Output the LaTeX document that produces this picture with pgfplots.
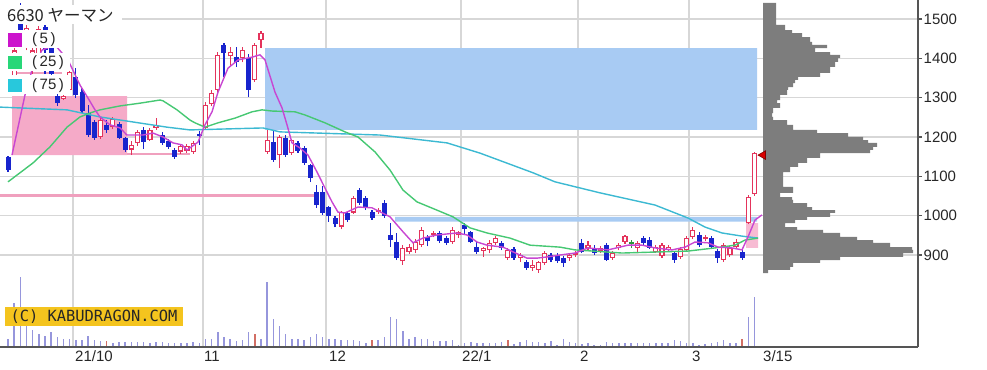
\documentclass[border=0pt]{standalone}
\usepackage{pgfplots}
\pgfplotsset{compat=1.18}
\usepackage{pgfplotstable}
\usepackage{fontspec}
\setmainfont{Liberation Sans}
\newfontfamily\jp{Noto Sans CJK JP}
\newfontfamily\wm{DejaVu Sans Mono}

\definecolor{candred}{RGB}{228,52,92}
\definecolor{candblue}{RGB}{24,36,205}
\definecolor{candgreen}{RGB}{40,150,60}
\definecolor{mafive}{RGB}{200,70,210}
\definecolor{matwfive}{RGB}{70,200,115}
\definecolor{masevfive}{RGB}{60,185,210}
\definecolor{sqfive}{RGB}{204,20,204}
\definecolor{sqtwfive}{RGB}{40,215,120}
\definecolor{sqsevfive}{RGB}{40,200,220}
\definecolor{pinkfill}{RGB}{245,170,200}
\definecolor{pinkline}{RGB}{240,160,190}
\definecolor{lightblue}{RGB}{168,203,243}
\definecolor{profgray}{RGB}{125,125,125}
\definecolor{volblue}{RGB}{150,150,220}
\definecolor{volred}{RGB}{210,110,100}
\definecolor{wmyellow}{RGB}{244,196,30}
\definecolor{axisgray}{RGB}{85,85,85}
\definecolor{gridgray}{RGB}{215,215,215}

% candles: i = trading-day index, o h l c
\pgfplotstableread{
i o h l c
1 1330 1440 1320 1420
3 1440 1485 1420 1478
4 1370 1425 1360 1420
5 1400 1482 1395 1475
9 1297 1306 1294 1304
10 1320 1372 1315 1365
15 1200 1251 1195 1243
17 1226 1251 1220 1246
20 1168 1190 1154 1180
21 1185 1218 1178 1213
23 1193 1222 1190 1218
24 1223 1248 1218 1230
28 1163 1182 1158 1177
29 1165 1182 1160 1178
30 1162 1190 1158 1186
32 1223 1288 1218 1281
33 1283 1320 1278 1312
34 1320 1415 1315 1408
36 1405 1428 1378 1416
38 1400 1430 1390 1421
40 1345 1440 1340 1434
41 1447 1470 1427 1464
42 1162 1218 1158 1192
44 1154 1205 1121 1200
46 1160 1196 1155 1192
54 972 1012 965 1009
56 1008 1050 1005 1045
60 1010 1020 1005 1015
64 884 925 875 918
65 908 928 902 920
66 913 940 905 933
67 925 970 920 963
69 952 960 945 957
72 933 970 928 963
73 950 962 943 958
77 910 921 895 917
78 913 938 904 930
79 930 948 925 943
81 893 918 888 913
83 892 905 882 900
85 868 888 860 875
86 862 886 855 882
87 880 910 875 905
91 893 905 885 900
92 900 910 895 905
94 918 935 912 925
96 910 922 905 918
98 893 910 888 905
99 918 930 912 925
100 933 952 928 948
102 918 935 905 930
105 908 925 905 920
106 897 930 892 925
107 913 925 910 920
109 895 920 890 915
110 913 948 910 943
111 946 970 940 963
113 940 952 935 946
116 888 930 882 925
117 900 922 895 918
118 920 940 915 933
120 982 1052 978 1047
121 1055 1162 1050 1160
}\upT

\pgfplotstableread{
i o h l c
0 1149 1152 1111 1116
2 1500 1540 1460 1470
6 1480 1485 1360 1420
7 1430 1440 1350 1360
8 1305 1320 1280 1287
11 1353 1376 1300 1307
12 1315 1324 1262 1265
13 1262 1282 1200 1206
14 1238 1243 1193 1198
16 1230 1243 1210 1218
18 1233 1238 1195 1198
19 1198 1200 1162 1167
22 1218 1225 1170 1187
25 1205 1212 1180 1185
26 1190 1195 1170 1175
27 1167 1172 1145 1150
31 1208 1215 1180 1203
35 1434 1438 1352 1413
37 1403 1428 1378 1390
39 1402 1410 1302 1320
43 1188 1218 1137 1142
45 1197 1205 1150 1155
47 1185 1190 1160 1165
48 1172 1178 1130 1135
49 1128 1132 1085 1097
50 1060 1078 1020 1027
51 1060 1075 1002 1008
52 1022 1025 985 998
53 995 1000 970 978
55 1006 1012 985 990
57 1065 1070 1028 1033
58 1045 1050 1015 1022
59 1010 1015 990 995
61 1032 1040 995 1000
62 950 982 920 938
63 933 956 887 893
68 946 950 922 935
70 956 960 930 935
71 943 948 926 930
74 975 982 950 965
75 958 962 930 932
76 920 935 903 908
80 930 935 912 918
82 915 920 888 893
84 882 888 862 867
88 900 905 882 888
89 900 905 880 884
90 892 897 870 880
93 930 940 905 908
95 918 925 900 905
97 925 930 885 888
103 943 948 925 930
104 938 945 915 918
108 905 910 880 888
112 951 958 920 925
114 943 948 915 920
115 910 915 880 892
119 908 912 888 892
}\downT

\pgfplotstableread{
i o h l c
101 928 938 918 932
}\dojiT

% volume (relative bar heights)
\pgfplotstableread{
i v
0 8
1 44
2 70
3 22
4 17
5 13
6 11
7 15
8 10
9 8
10 8
11 7
12 7
13 11
14 7
15 6
17 4
18 5
19 5
20 5
21 5
22 5
23 4
24 5
25 5
26 4
27 4
28 4
29 4
30 5
31 4
32 8
33 8
34 15
35 10
36 8
37 6
38 7
39 15
41 8
42 65
43 28
44 21
45 13
46 8
47 8
48 7
49 10
50 13
51 10
52 8
53 8
54 7
55 7
56 7
57 6
58 4
60 7
61 10
62 30
63 28
64 16
65 8
66 10
67 8
68 8
69 6
70 6
71 6
72 7
73 2
74 4
75 5
76 4
77 4
78 4
79 4
80 5
82 3
83 5
84 7
85 5
86 5
87 4
88 6
89 2
90 8
91 5
92 4
93 3
94 4
95 2
96 2
97 5
98 4
99 4
100 4
101 4
102 4
103 4
104 4
105 4
106 4
107 4
108 7
109 6
110 4
111 4
112 2
113 3
114 4
115 5
116 7
117 4
118 4
120 30
121 50
}\volT

\pgfplotstableread{
i v
16 6
40 13
59 7
81 7
119 8
}\volR

\pgfplotsset{
  candle/.style={draw=none, no markers, forget plot,
    error bars/.cd, y dir=plus, y explicit, error mark=none,
    error bar style={draw=#1}},
}

\begin{document}
\begin{tikzpicture}[x=1bp,y=1bp]
\path[use as bounding box] (0,0) rectangle (987,369);

% ---------- volume panel ----------
\begin{axis}[at={(0bp,22bp)}, anchor=south west, width=918bp, height=347bp,
  scale only axis, xmin=0, xmax=918, ymin=0, ymax=347, hide axis]
\addplot[ycomb, no marks, draw=volblue, line width=1.5bp]
  table[x expr=8+6.17*\thisrow{i}, y=v] \volT;
\addplot[ycomb, no marks, draw=volred, line width=1.5bp]
  table[x expr=8+6.17*\thisrow{i}, y=v] \volR;
\end{axis}

% ---------- price panel ----------
\begin{axis}[at={(0bp,22bp)}, anchor=south west, width=918bp, height=347bp,
  scale only axis, xmin=0, xmax=918, ymin=666.1, ymax=1548.3,
  axis x line*=bottom, axis y line*=right,
  axis line style={draw=axisgray, line width=1.5bp},
  xtick={73,203,326,461,578,689}, xticklabels={},
  ytick={900,1000,...,1500},
  grid=major, major grid style={draw=gridgray, line width=1.4bp},
  tick align=outside, major tick length=4bp,
  xtick style={draw=none}, ytick style={draw=axisgray, line width=1.2bp},
  yticklabel style={font=\fontsize{15bp}{15bp}\selectfont, text=black!85, inner sep=1.5bp},
  /pgf/number format/assume math mode=true, /pgf/number format/1000 sep={},
]
% zones
\addplot[fill=lightblue, draw=none] coordinates {(265,1218) (757,1218) (757,1426) (265,1426) (265,1218)};
\addplot[fill=lightblue, draw=none] coordinates {(395,985) (757,985) (757,997) (395,997) (395,985)};
\addplot[fill=pinkfill, draw=none] coordinates {(12,1154) (127,1154) (127,1304) (12,1304) (12,1154)};
\addplot[fill=pinkfill!80, draw=none] coordinates {(746,918) (758,918) (758,981) (746,981) (746,918)};
\addplot[draw=pinkline, line width=2bp] coordinates {(127,1156) (190,1156)};
\addplot[draw=pinkline, line width=2bp] coordinates {(12,1363) (62,1363)};
\addplot[draw=pinkline, line width=3bp] coordinates {(0,1050) (315,1050)};

% price-by-volume profile
\addplot[fill=profgray, draw=none] coordinates {
(763,1541) (776,1541) (776,1485) (785,1485) (785,1472) (792,1472) (792,1464) (802,1464)
(802,1454) (810,1454) (810,1442) (812,1442) (812,1434) (827,1434) (827,1426) (815,1426)
(815,1416) (830,1416) (830,1409) (840,1409) (840,1401) (838,1401) (838,1391) (835,1391)
(835,1378) (830,1378) (830,1363) (820,1363) (820,1353) (798,1353) (798,1345) (795,1345)
(795,1337) (793,1337) (793,1327) (788,1327) (788,1320) (787,1320) (787,1307) (780,1307)
(780,1294) (777,1294) (777,1286) (780,1286) (780,1274) (773,1274) (773,1261) (772,1261)
(772,1251) (773,1251) (773,1243) (787,1243) (787,1231) (793,1231) (793,1218) (817,1218)
(817,1210) (848,1210) (848,1200) (863,1200) (863,1192) (868,1192) (868,1185) (877,1185)
(877,1175) (873,1175) (873,1167) (870,1167) (870,1159) (820,1159) (820,1147) (807,1147)
(807,1134) (798,1134) (798,1124) (790,1124) (790,1111) (783,1111) (783,1073) (793,1073)
(793,1058) (780,1058) (780,1047) (792,1047) (792,1040) (793,1040) (793,1032) (807,1032)
(807,1022) (812,1022) (812,1014) (835,1014) (835,1007) (830,1007) (830,997) (807,997)
(807,989) (795,989) (795,981) (785,981) (785,971) (797,971) (797,964) (823,964)
(823,956) (840,956) (840,946) (857,946) (857,938) (873,938) (873,931) (890,931)
(890,920) (912,920) (912,913) (913,913) (913,905) (903,905) (903,895) (840,895)
(840,887) (820,887) (820,880) (793,880) (793,870) (790,870) (790,862) (768,862)
(768,854) (763,854) (763,1541)};

% wicks
\addplot[candle={candred, line width=1.1bp}]
  table[x expr=8+6.17*\thisrow{i}, y=l, y error expr=\thisrow{h}-\thisrow{l}] \upT;
\addplot[candle={candblue, line width=1.1bp}]
  table[x expr=8+6.17*\thisrow{i}, y=l, y error expr=\thisrow{h}-\thisrow{l}] \downT;
\addplot[candle={candgreen, line width=1.1bp}]
  table[x expr=8+6.17*\thisrow{i}, y=l, y error expr=\thisrow{h}-\thisrow{l}] \dojiT;
% bodies
\addplot[candle={candblue, line width=5bp}]
  table[x expr=8+6.17*\thisrow{i}, y=c, y error expr=\thisrow{o}-\thisrow{c}] \downT;
\addplot[candle={candred, line width=5.2bp}]
  table[x expr=8+6.17*\thisrow{i}, y=o, y error expr=\thisrow{c}-\thisrow{o}] \upT;
\addplot[candle={white, line width=2.8bp}]
  table[x expr=8+6.17*\thisrow{i}, y expr=\thisrow{o}+3.0, y error expr={max(\thisrow{c}-\thisrow{o}-6.0,0)}] \upT;
\addplot[candle={candgreen, line width=5bp}]
  table[x expr=8+6.17*\thisrow{i}, y=o, y error expr=\thisrow{c}-\thisrow{o}] \dojiT;

% moving averages
\addplot[draw=masevfive, line width=1.4bp] coordinates {
(0,1276) (67,1269) (100,1251) (167,1225) (190,1218) (263,1223) (280,1213) (380,1205)
(447,1185) (480,1159) (533,1109) (555,1086) (600,1058) (655,1027) (688,994) (705,971)
(722,956) (742,948) (758,943)};
\addplot[draw=matwfive, line width=1.4bp] coordinates {
(8,1086) (33,1134) (50,1175) (67,1225) (80,1251) (90,1261) (100,1269) (120,1279)
(140,1286) (160,1294) (163,1292) (177,1269) (190,1243) (195,1236) (205,1225) (218,1236)
(235,1248) (252,1264) (262,1269) (272,1266) (295,1264) (305,1256) (325,1236) (345,1213)
(358,1200) (375,1162) (390,1116) (403,1065) (417,1035) (437,1014) (453,997) (470,969)
(487,956) (510,943) (530,925) (560,920) (575,913) (622,905) (688,910) (715,918)
(735,925) (745,938) (758,943)};
\addplot[draw=mafive, line width=1.4bp] coordinates {
(12,1154) (25,1307) (32,1370) (42,1421) (55,1434) (68,1396) (80,1332) (88,1299)
(95,1269) (100,1251) (110,1231) (120,1223) (127,1205) (133,1205) (143,1205) (153,1210)
(163,1200) (173,1185) (182,1180) (187,1167) (198,1187) (205,1231) (212,1264) (218,1314)
(228,1375) (238,1396) (252,1403) (260,1409) (265,1396) (275,1314) (282,1274) (287,1231)
(292,1185) (300,1172) (308,1154) (317,1111) (325,1070) (332,1035) (338,1009) (345,1007)
(358,1022) (372,1020) (390,997) (403,959) (413,931) (423,943) (437,951) (457,956)
(467,951) (477,933) (487,925) (503,920) (513,908) (527,892) (537,892) (547,895)
(560,900) (575,905) (588,918) (608,913) (628,925) (642,925) (655,918) (672,913)
(685,920) (695,933) (708,931) (718,920) (732,918) (742,913) (748,946) (755,989) (762,1002)};

% current price marker
\addplot[only marks, mark=triangle*, mark size=5bp,
  mark options={rotate=90, fill=red!85!black, draw=red!50!black, line width=0.6bp}]
  coordinates {(763,1154)};
\end{axis}

% ---------- legend ----------
\fill[white] (0,369-24) rectangle (122,369-5);
\node[anchor=west, inner sep=0pt, font=\jp\fontsize{16.5bp}{16.5bp}\selectfont, text=black!85] at (7,369-15.5) {6630 ヤーマン};
\fill[white] (0,369-48) rectangle (62,369-30);
\fill[sqfive] (8,369-47) rectangle (22,369-33);
\node[anchor=west, inner sep=0pt, font=\fontsize{15bp}{15bp}\selectfont, text=black!85] at (32,369-40) {(\,5\,)};
\fill[white] (0,369-71) rectangle (70,369-53);
\fill[sqtwfive] (8,369-69) rectangle (22,369-56);
\node[anchor=west, inner sep=0pt, font=\fontsize{15bp}{15bp}\selectfont, text=black!85] at (32,369-62.5) {(\,25\,)};
\fill[white] (0,369-94) rectangle (70,369-75);
\fill[sqsevfive] (8,369-92) rectangle (22,369-79);
\node[anchor=west, inner sep=0pt, font=\fontsize{15bp}{15bp}\selectfont, text=black!85] at (32,369-85.5) {(\,75\,)};

% ---------- watermark ----------
\fill[wmyellow] (5,369-326) rectangle (183,369-307);
\node[inner sep=0pt, font=\wm\fontsize{15.4bp}{15.4bp}\selectfont, text=black!85] at (94,369-316.5) {(C) KABUDRAGON.COM};

% ---------- month labels ----------
\foreach \xx/\lab in {75/{21/10}, 204/{11}, 329/{12}, 462/{22/1}, 580/{2}, 692/{3}, 763/{3/15}}
  \node[anchor=base west, inner sep=0pt, font=\fontsize{15bp}{15bp}\selectfont, text=black!85] at (\xx,7.5) {\lab};
\end{tikzpicture}
\end{document}
